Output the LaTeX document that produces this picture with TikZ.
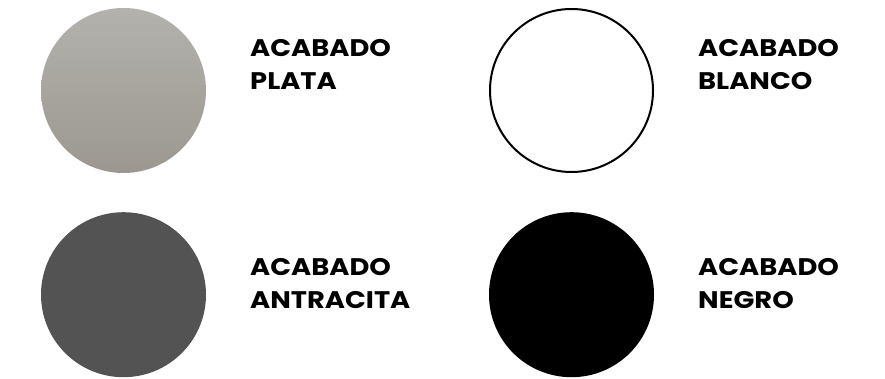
\documentclass[tikz,border=0pt]{standalone}
\usepackage{fontspec}
\setmainfont{Poppins}[BoldFont={* Bold}, BoldFeatures={FakeStretch=1.14}]
\definecolor{plata1}{HTML}{B3B2AC}
\definecolor{plata2}{HTML}{9C9791}
\definecolor{antracita}{HTML}{535353}
\begin{document}
\begin{tikzpicture}[x=1pt,y=-1pt,
  swatch/.style={circle, minimum size=165pt, inner sep=0pt},
  label/.style={anchor=base west, inner sep=0pt, align=left, font=\bfseries\fontsize{24}{32.8}\selectfont}]
\useasboundingbox (0,0) rectangle (885,379);
\node[swatch, shading=axis, top color=plata1, bottom color=plata2] (plata) at (123.5,90.5) {};
\node[swatch, draw=black, line width=2pt, minimum size=163pt, fill=white] (blanco) at (571.5,90.5) {};
\node[swatch, fill=antracita] (antracita) at (123.5,294.7) {};
\node[swatch, fill=black] (negro) at (571.5,294.7) {};
\node[label] (tplata) at (250,89.3) {ACABADO\\PLATA};
\node[label] (tblanco) at (698,89.3) {ACABADO\\BLANCO};
\node[label] (tantracita) at (250,308.7) {ACABADO\\ANTRACITA};
\node[label] (tnegro) at (698,308.7) {ACABADO\\NEGRO};
\end{tikzpicture}
\end{document}
